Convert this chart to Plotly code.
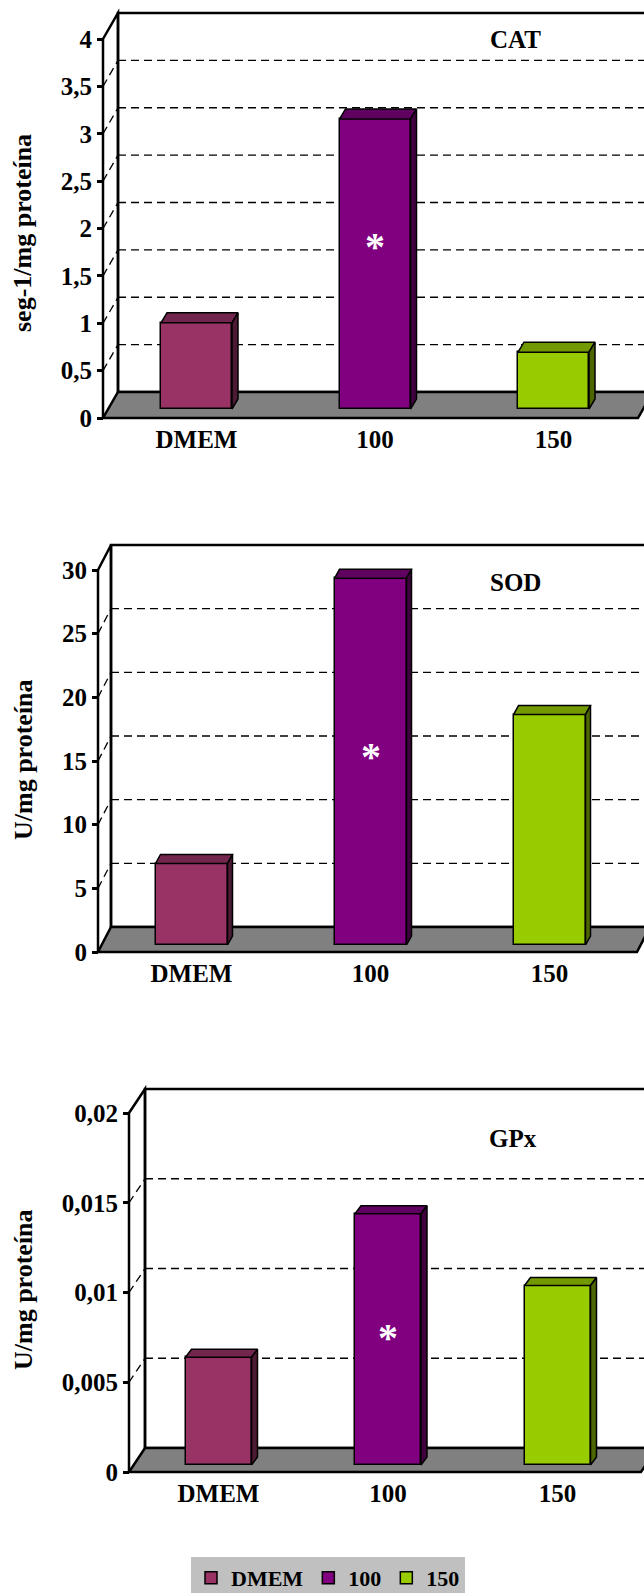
import plotly.graph_objects as go

# data
categories = ["DMEM", "100", "150"]
cat_values = [0.91, 3.06, 0.60]
sod_values = [6.4, 28.8, 18.1]
gpx_values = [0.0060, 0.0140, 0.0100]

cat_ticks = [0, 0.5, 1, 1.5, 2, 2.5, 3, 3.5, 4]
cat_ticktext = ["0", "0,5", "1", "1,5", "2", "2,5", "3", "3,5", "4"]
sod_ticks = [0, 5, 10, 15, 20, 25, 30]
sod_ticktext = ["0", "5", "10", "15", "20", "25", "30"]
gpx_ticks = [0, 0.005, 0.01, 0.015, 0.02]
gpx_ticktext = ["0", "0,005", "0,01", "0,015", "0,02"]

panel_names = ["CAT", "SOD", "GPx"]
y_titles = ["seg-1/mg proteína", "U/mg proteína", "U/mg proteína"]
star_at = 1  # the "100" bar carries the asterisk

W, H = 644, 1593
FONT = "Liberation Serif, Times New Roman, serif"

face = ["#993366", "#800080", "#99CC00"]
top_face = ["#73264D", "#600060", "#739900"]
side_face = ["#4D1A33", "#400040", "#4D6600"]
FLOOR = "#808080"

# pixel geometry of each panel (front plane)
layouts = [
    dict(values=cat_values, ticks=cat_ticks, ticktext=cat_ticktext, ymax=4,
         axis_x=103, y0=418, ytop=39, top=4, bottom=428, wall=(15, 26),
         cx0=196.5, sp=178.5, bar_w=71, lift=9, bar_depth=(6, 10), right=638,
         name_xy=(515, 39), title_y=233, star=0.58),
    dict(values=sod_values, ticks=sod_ticks, ticktext=sod_ticktext, ymax=30,
         axis_x=98, y0=952, ytop=570, top=536, bottom=962, wall=(13, 25),
         cx0=191.5, sp=179, bar_w=72, lift=7, bar_depth=(5, 9), right=637,
         name_xy=(515, 582), title_y=760, star=0.53),
    dict(values=gpx_values, ticks=gpx_ticks, ticktext=gpx_ticktext, ymax=0.02,
         axis_x=129, y0=1472, ytop=1113, top=1080, bottom=1482, wall=(16, 24),
         cx0=218.5, sp=169.5, bar_w=66, lift=7, bar_depth=(6, 8), right=641,
         name_xy=(513, 1138), title_y=1290, star=0.53),
]

fig = go.Figure()
shapes = []
annotations = []
layout_axes = {}

for n, p in enumerate(layouts):
    sfx = "" if n == 0 else str(n + 1)
    xref, yref = "x" + sfx, "y" + sfx
    k = (p["y0"] - p["ytop"]) / p["ymax"]  # px per unit
    sp = p["sp"]

    def ux(px):
        return (px - p["cx0"]) / sp

    wdx = p["wall"][0] / sp
    wdy = p["wall"][1] / k
    xl = ux(p["axis_x"])
    xr = ux(p["right"])
    ymax = p["ymax"]

    # back wall
    shapes.append(dict(type="rect", xref=xref, yref=yref, layer="below",
                       x0=xl + wdx, x1=xr + wdx, y0=wdy, y1=ymax + wdy,
                       fillcolor="white", line=dict(color="black", width=2.5)))
    # gridlines on back wall and side wall
    for t in p["ticks"][1:-1]:
        gy = t + wdy
        if gy >= ymax:
            continue
        shapes.append(dict(type="line", xref=xref, yref=yref, layer="below",
                           x0=xl + wdx, x1=xr + wdx, y0=gy, y1=gy,
                           line=dict(color="black", width=1.3, dash="8px,5px")))
        shapes.append(dict(type="line", xref=xref, yref=yref, layer="below",
                           x0=xl, x1=xl + wdx, y0=t, y1=gy,
                           line=dict(color="black", width=1.3, dash="8px,5px")))
    # floor
    shapes.append(dict(type="path", xref=xref, yref=yref, layer="below",
                       path=f"M{xl},0 L{xr},0 L{xr + wdx},{wdy} L{xl + wdx},{wdy} Z",
                       fillcolor=FLOOR, line=dict(color="black", width=2.5)))
    # side wall edges + front value axis
    shapes.append(dict(type="path", xref=xref, yref=yref, layer="below",
                       path=f"M{xl},0 L{xl},{ymax} L{xl + wdx},{ymax + wdy} L{xl + wdx},{wdy}",
                       line=dict(color="black", width=2.5)))

    lift = p["lift"] / k
    bw = p["bar_w"] / sp
    bdx = p["bar_depth"][0] / sp
    bdy = p["bar_depth"][1] / k
    for i, (cat, v) in enumerate(zip(categories, p["values"])):
        fig.add_trace(go.Bar(
            x=[i], y=[v], base=[lift], width=bw, name=cat,
            marker=dict(color=face[i], line=dict(color="black", width=1.5)),
            xaxis=xref, yaxis=yref, legendgroup=cat, showlegend=(n == 0),
            hoverinfo="skip"))
        x0, x1 = i - bw / 2, i + bw / 2
        tp = lift + v
        fig.add_trace(go.Scatter(
            x=[x0, x1, x1 + bdx, x0 + bdx, x0],
            y=[tp, tp, tp + bdy, tp + bdy, tp],
            fill="toself", fillcolor=top_face[i], mode="lines",
            line=dict(color="black", width=1.5), xaxis=xref, yaxis=yref,
            showlegend=False, hoverinfo="skip"))
        fig.add_trace(go.Scatter(
            x=[x1, x1 + bdx, x1 + bdx, x1, x1],
            y=[lift, lift + bdy, tp + bdy, tp, lift],
            fill="toself", fillcolor=side_face[i], mode="lines",
            line=dict(color="black", width=1.5), xaxis=xref, yaxis=yref,
            showlegend=False, hoverinfo="skip"))

    annotations.append(dict(
        xref=xref, yref=yref, x=star_at, y=lift + p["values"][star_at] * p["star"],
        text="*", showarrow=False, yshift=-6,
        font=dict(family=FONT, size=40, color="white", weight="bold")))
    annotations.append(dict(
        xref="paper", yref="paper", x=p["name_xy"][0] / W, y=1 - p["name_xy"][1] / H,
        xanchor="center", yanchor="middle",
        text=panel_names[n], showarrow=False,
        font=dict(family=FONT, size=25, color="black", weight="bold")))
    annotations.append(dict(
        xref="paper", yref="paper", x=23 / W, y=1 - p["title_y"] / H,
        xanchor="center", yanchor="middle",
        text=y_titles[n], showarrow=False, textangle=-90,
        font=dict(family=FONT, size=26, color="black", weight="bold")))

    r0 = -(p["bottom"] - p["y0"]) / k
    r1 = (p["y0"] - p["top"]) / k
    layout_axes["yaxis" + sfx] = dict(
        domain=[1 - p["bottom"] / H, 1 - p["top"] / H], range=[r0, r1],
        anchor="free", position=p["axis_x"] / W,
        tickvals=p["ticks"], ticktext=p["ticktext"],
        ticks="outside", ticklen=6, tickwidth=2.5, tickcolor="black",
        showline=False, showgrid=False, zeroline=False, fixedrange=True,
        tickfont=dict(family=FONT, size=25, color="black", weight="bold"))
    layout_axes["xaxis" + sfx] = dict(
        domain=[0, 1], range=[-p["cx0"] / sp, (W - p["cx0"]) / sp],
        anchor="free", position=1 - p["y0"] / H,
        tickvals=[0, 1, 2], ticktext=categories, ticks="", ticklabelstandoff=4,
        showline=False, showgrid=False, zeroline=False, fixedrange=True,
        tickfont=dict(family=FONT, size=25, color="black", weight="bold"))

fig.update_layout(
    width=W, height=H, margin=dict(l=0, r=0, t=0, b=0, autoexpand=False),
    paper_bgcolor="white", plot_bgcolor="white",
    barmode="overlay", bargap=0,
    shapes=shapes, annotations=annotations,
    legend=dict(orientation="h", x=191 / W, xanchor="left", y=-6 / H, yanchor="bottom",
                bgcolor="#C0C0C0", borderwidth=0,
                font=dict(family=FONT, size=22, color="black", weight="bold")),
    **layout_axes,
)

fig.write_html("out.html", config={"displayModeBar": False},
               post_script="document.body.style.margin = '0';")
